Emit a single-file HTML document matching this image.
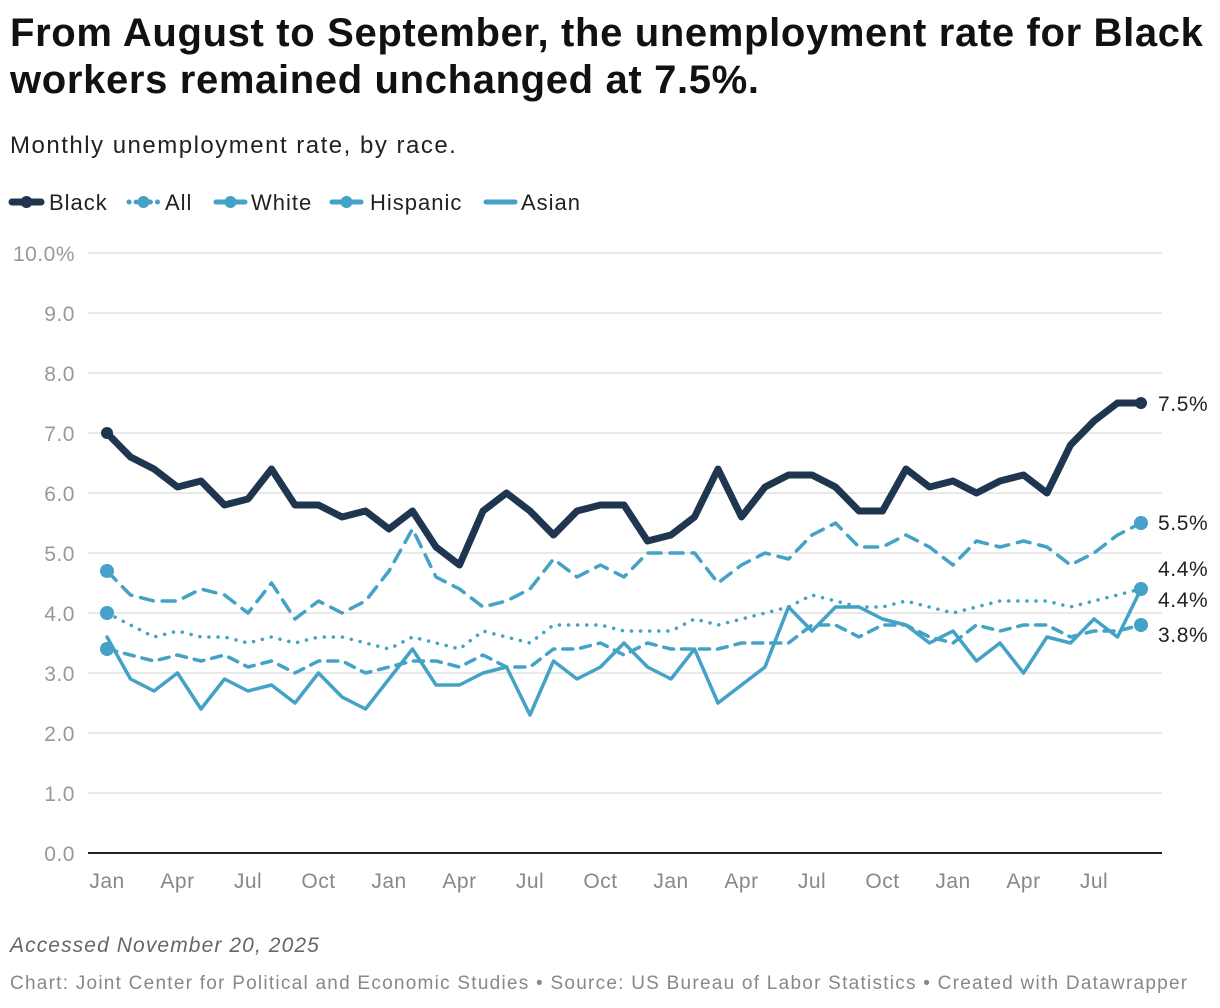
<!DOCTYPE html>
<html><head><meta charset="utf-8"><style>
body{margin:0;background:#fff;font-family:"Liberation Sans",sans-serif;}
#wrap{position:relative;width:1220px;height:1008px;overflow:hidden}
h1{position:absolute;left:10px;top:10px;margin:0;font-size:40px;line-height:47px;font-weight:bold;color:#111;letter-spacing:0.65px;white-space:nowrap}
.sub{position:absolute;left:10px;top:132px;font-size:24px;color:#222;letter-spacing:1.5px}
.note{position:absolute;left:10px;top:934px;font-size:21px;font-style:italic;color:#666;letter-spacing:1.1px}
.src{position:absolute;left:10px;top:973px;font-size:19px;color:#888;letter-spacing:1.25px;white-space:nowrap}
</style></head><body>
<div id="wrap">
<h1>From August to September, the unemployment rate for Black<br>workers remained unchanged at 7.5%.</h1>
<div class="sub">Monthly unemployment rate, by race.</div>
<svg id="chart" width="1220" height="1008" style="position:absolute;left:0;top:0"></svg>
<div class="note">Accessed November 20, 2025</div>
<div class="src">Chart: Joint Center for Political and Economic Studies • Source: US Bureau of Labor Statistics • Created with Datawrapper</div>
</div>
<script>
const yTicks=[0,1,2,3,4,5,6,7,8,9,10];
const xTickLabels=["Jan","Apr","Jul","Oct","Jan","Apr","Jul","Oct","Jan","Apr","Jul","Oct","Jan","Apr","Jul"];
const black=[7.0,6.6,6.4,6.1,6.2,5.8,5.9,6.4,5.8,5.8,5.6,5.7,5.4,5.7,5.1,4.8,5.7,6.0,5.7,5.3,5.7,5.8,5.8,5.2,5.3,5.6,6.4,5.6,6.1,6.3,6.3,6.1,5.7,5.7,6.4,6.1,6.2,6.0,6.2,6.3,6.0,6.8,7.2,7.5,7.5];
const allRate=[4.0,3.8,3.6,3.7,3.6,3.6,3.5,3.6,3.5,3.6,3.6,3.5,3.4,3.6,3.5,3.4,3.7,3.6,3.5,3.8,3.8,3.8,3.7,3.7,3.7,3.9,3.8,3.9,4.0,4.1,4.3,4.2,4.1,4.1,4.2,4.1,4.0,4.1,4.2,4.2,4.2,4.1,4.2,4.3,4.4];
const white=[3.4,3.3,3.2,3.3,3.2,3.3,3.1,3.2,3.0,3.2,3.2,3.0,3.1,3.2,3.2,3.1,3.3,3.1,3.1,3.4,3.4,3.5,3.3,3.5,3.4,3.4,3.4,3.5,3.5,3.5,3.8,3.8,3.6,3.8,3.8,3.6,3.5,3.8,3.7,3.8,3.8,3.6,3.7,3.7,3.8];
const hispanic=[4.7,4.3,4.2,4.2,4.4,4.3,4.0,4.5,3.9,4.2,4.0,4.2,4.7,5.4,4.6,4.4,4.1,4.2,4.4,4.9,4.6,4.8,4.6,5.0,5.0,5.0,4.5,4.8,5.0,4.9,5.3,5.5,5.1,5.1,5.3,5.1,4.8,5.2,5.1,5.2,5.1,4.8,5.0,5.3,5.5];
const asian=[3.6,2.9,2.7,3.0,2.4,2.9,2.7,2.8,2.5,3.0,2.6,2.4,2.9,3.4,2.8,2.8,3.0,3.1,2.3,3.2,2.9,3.1,3.5,3.1,2.9,3.4,2.5,2.8,3.1,4.1,3.7,4.1,4.1,3.9,3.8,3.5,3.7,3.2,3.5,3.0,3.6,3.5,3.9,3.6,4.4];
const endLabels=[["7.5%",403],["5.5%",522],["4.4%",568],["4.4%",599],["3.8%",634]];

const svg=document.getElementById('chart');
const NS='http://www.w3.org/2000/svg';
const x=i=>107+i*23.5;
const y=v=>853-v*60;
const C='#43a2c5', D='#1f3550';
function mk(t,a){const e=document.createElementNS(NS,t);for(const k in a)e.setAttribute(k,a[k]);svg.appendChild(e);return e;}
yTicks.forEach(v=>{
  const l=mk('line',{x1:88,x2:1162,y1:y(v),y2:y(v),stroke:v===0?'#222':'#e2e2e2','stroke-width':v===0?2:1.5});
  
  
  const t=mk('text',{x:75,y:y(v)+8,'text-anchor':'end','font-size':21,fill:'#999','font-family':'Liberation Sans, sans-serif','letter-spacing':0.5});
  t.textContent=v===10?'10.0%':v.toFixed(1);
  
  
});
xTickLabels.forEach((s,k)=>{
  const t=mk('text',{x:x(k*3),y:888,'text-anchor':'middle','font-size':21,fill:'#888','font-family':'Liberation Sans, sans-serif','letter-spacing':0.5});
  t.textContent=s;
  
  
});
function series(data,color,w,dash,name,startDot,endDot){
  const p=mk('polyline',{points:data.map((v,i)=>x(i)+','+y(v)).join(' '),fill:'none',stroke:color,'stroke-width':w,'stroke-linejoin':'round','stroke-linecap':'round','stroke-dasharray':dash});
  
  
  const r=w>5?6:7;
  if(startDot){const c=mk('circle',{cx:x(0),cy:y(data[0]),r:r,fill:color});
    
    }
  if(endDot){const n=data.length-1;const c=mk('circle',{cx:x(n),cy:y(data[n]),r:r,fill:color});
    
    }
}
series(asian,C,3.5,'none','asian',false,true);
series(white,C,3.5,'10 8','white',true,true);
series(allRate,C,3.5,'0.1 9','all',true,false);
series(hispanic,C,3.5,'13 9','hispanic',true,true);
series(black,D,7,'none','black',true,true);
endLabels.forEach(([s,yy])=>{
  const t=mk('text',{x:1158,y:yy+8,'font-size':21,fill:'#222','font-family':'Liberation Sans, sans-serif','letter-spacing':0.6});
  t.textContent=s;
  
  
});
// legend
const leg=[["Black",D,'none',12,49],["All",C,'0.1 7',129,165],["White",C,'none',216,251],["Hispanic",C,'none',332,370],["Asian",C,'none',486,521]];
leg.forEach(([s,c,d,x0,tx],k)=>{
  const l=mk('line',{x1:x0,x2:x0+29,y1:202,y2:202,stroke:c,'stroke-width':k===0?7:5,'stroke-linecap':'round','stroke-dasharray':d});
  
  
  if(k<4){const ci=mk('circle',{cx:x0+14.5,cy:202,r:6,fill:c});
    
    }
  const t=mk('text',{x:tx,y:210,'font-size':22,fill:'#222','font-family':'Liberation Sans, sans-serif','letter-spacing':1});
  t.textContent=s;
  
  
});
</script>
</body></html>
